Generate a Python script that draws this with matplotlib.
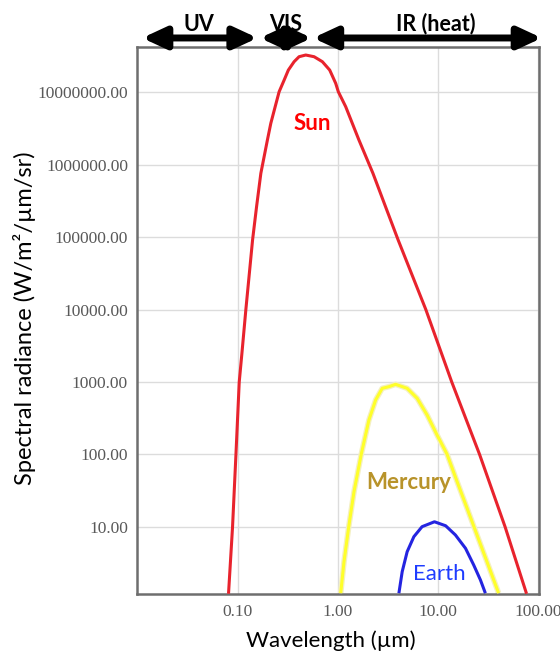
import matplotlib
matplotlib.use('Agg')
import matplotlib.pyplot as plt
import matplotlib.transforms as mtransforms
from matplotlib.ticker import FixedLocator, FixedFormatter, NullLocator

# ---------------- data ----------------
sun_wl = [0.0805, 0.0883, 0.0955, 0.103, 0.1096, 0.120, 0.140, 0.1535, 0.1694,
          0.197, 0.213, 0.2355, 0.258, 0.290, 0.319, 0.364, 0.408, 0.476,
          0.577, 0.698, 0.826, 0.948, 1.007, 1.194, 1.618, 2.234, 2.985, 3.99,
          7.54, 13.7, 26.0, 46.8, 76.6]
sun_rad = [1.2, 10, 100, 1000, 2500, 1.0e4, 9.1e4, 2.62e5, 7.57e5,
           2.18e6, 3.70e6, 6.27e6, 1.01e7, 1.47e7, 2.01e7, 2.62e7, 3.07e7, 3.24e7,
           3.07e7, 2.62e7, 2.01e7, 1.32e7, 1.01e7, 6.27e6, 2.18e6, 7.57e5, 2.62e5, 9.1e4,
           1.0e4, 1000, 100, 10, 1.2]

mercury_wl = [1.064, 1.148, 1.288, 1.445, 1.707, 2.037, 2.377, 2.767, 3.22, 3.76,
              4.91, 6.18, 7.77, 9.77, 12.3, 15.5, 19.5, 24.5, 30.8, 40.3]
mercury_rad = [1.22, 3.32, 10.7, 30.7, 100.7, 299, 565, 818, 861, 929,
               818, 596, 351, 186, 100.7, 42.2, 18.1, 7.76, 3.32, 1.22]

earth_wl = [4.06, 4.38, 4.91, 5.73, 6.92, 9.20, 11.9, 14.9, 18.8, 22.7, 26.5, 29.7]
earth_rad = [1.22, 2.42, 4.56, 7.35, 10.1, 11.8, 10.4, 7.76, 5.08, 2.99, 1.86, 1.22]

x_ticks = [0.1, 1, 10, 100]
x_tick_labels = ['0.10', '1.00', '10.00', '100.00']
y_ticks = [10, 100, 1000, 1e4, 1e5, 1e6, 1e7]
y_tick_labels = ['10.00', '100.00', '1000.00', '10000.00', '100000.00',
                 '1000000.00', '10000000.00']

band_names = ['UV', 'VIS', 'IR (heat)']
band_start = [0.01104, 0.1656, 0.563]
band_end = [0.157, 0.547, 108.9]
band_label_x = [0.0411, 0.303, 9.48]

SANS = ['Lato', 'DejaVu Sans']

fig = plt.figure(figsize=(5.6, 6.52), dpi=100)
ax = fig.add_axes([137/560, 1-594/652, (539-137)/560, (594-47)/652])
ax.set_xscale('log')
ax.set_yscale('log')
ax.set_xlim(0.0098, 102)
ax.set_ylim(1.19, 4.18e7)

ax.plot(sun_wl, sun_rad, color='#E8232D', lw=2.2, solid_capstyle='butt', zorder=3)
ax.plot(mercury_wl, mercury_rad, color='#F4F0C0', lw=4.0, solid_capstyle='butt', zorder=2)
ax.plot(mercury_wl, mercury_rad, color='#FFFF2A', lw=2.2, solid_capstyle='butt', zorder=3)
ax.plot(earth_wl, earth_rad, color='#2424E0', lw=2.2, solid_capstyle='butt', zorder=3)

ax.xaxis.set_major_locator(FixedLocator(x_ticks))
ax.xaxis.set_major_formatter(FixedFormatter(x_tick_labels))
ax.yaxis.set_major_locator(FixedLocator(y_ticks))
ax.yaxis.set_major_formatter(FixedFormatter(y_tick_labels))
ax.xaxis.set_minor_locator(NullLocator())
ax.yaxis.set_minor_locator(NullLocator())
ax.tick_params(length=0, labelsize=12.5, labelcolor='#595959')
ax.tick_params(axis='y', pad=6.5)
ax.tick_params(axis='x', pad=7)
for lab in ax.get_xticklabels() + ax.get_yticklabels():
    lab.set_fontfamily('Liberation Serif')

ax.grid(True, color='#dcdcdc', lw=1.0, zorder=0)
ax.set_axisbelow(True)
for sp in ax.spines.values():
    sp.set_color('#6e6e6e')
    sp.set_linewidth(1.8)

# curve labels
ax.text(0.551, 3.73e6, 'Sun', color='#FF0000', fontsize=16, fontweight='bold',
        ha='center', va='center', family=SANS)
ax.text(5.1, 40.5, 'Mercury', color='#B8932A', fontsize=16, fontweight='bold',
        ha='center', va='center', family=SANS)
ax.text(10.2, 2.25, 'Earth', color='#1E3CFF', fontsize=16,
        ha='center', va='center', family=SANS)

# band arrows
trans = mtransforms.blended_transform_factory(ax.transData, ax.transAxes)
for name, s, e, lx in zip(band_names, band_start, band_end, band_label_x):
    ax.annotate('', xy=(e, 1.0165), xytext=(s, 1.0165), xycoords=trans, textcoords=trans,
                arrowprops=dict(arrowstyle='<|-|>,head_length=1.4,head_width=0.65',
                                lw=5, color='black', mutation_scale=10,
                                shrinkA=0, shrinkB=0),
                annotation_clip=False)
    ax.text(lx, 1.0298, name, transform=trans, ha='center', va='baseline',
            fontsize=15.5, fontweight='bold', family=SANS, clip_on=False)

fig.text(25/560, 1-318/652, 'Spectral radiance (W/m\u00b2/\u00b5m/sr)', rotation=90,
         ha='center', va='center', fontsize=17, family=SANS)
fig.text(331/560, 1-647/652, 'Wavelength (\u00b5m)', ha='center', va='baseline',
         fontsize=16, family=SANS)

fig.savefig('out.png', dpi=100)
